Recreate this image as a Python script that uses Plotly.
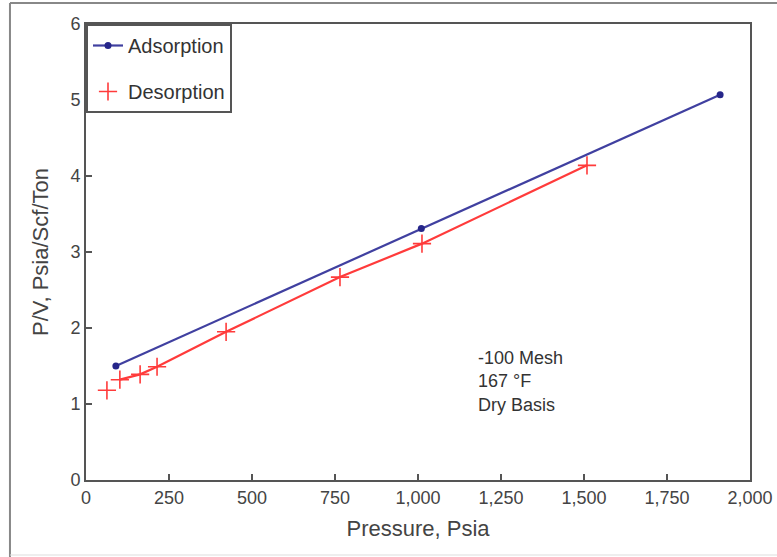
import plotly.graph_objects as go

ads_p = [90, 1010, 1910]
ads_pv = [1.50, 3.31, 5.07]

des_p = [63, 102, 163, 214, 422, 765, 1012, 1509]
des_pv = [1.18, 1.32, 1.39, 1.49, 1.95, 2.67, 3.11, 4.14]

x_ticks = [0, 250, 500, 750, 1000, 1250, 1500, 1750, 2000]
x_ticktext = ["0", "250", "500", "750", "1,000", "1,250", "1,500", "1,750", "2,000"]
y_ticks = [0, 1, 2, 3, 4, 5, 6]

note_lines = ["-100 Mesh", "167 °F", "Dry Basis"]

FONT = "Liberation Sans, Arial, sans-serif"
AX = "#555555"

fig = go.Figure()
fig.add_trace(go.Scatter(
    x=ads_p, y=ads_pv, mode="lines+markers", name="Adsorption",
    line=dict(color="#4040a0", width=2.2),
    marker=dict(color="#26268a", size=7, symbol="circle"),
    legendgroup="a",
))
fig.add_trace(go.Scatter(
    x=des_p[1:], y=des_pv[1:], mode="lines", showlegend=False,
    line=dict(color="#ff3b3b", width=2.2), hoverinfo="skip",
))
fig.add_trace(go.Scatter(
    x=des_p, y=des_pv, mode="markers", name="Desorption",
    marker=dict(color="#ff3b3b", size=13, symbol="cross-thin",
                line=dict(color="#ff3b3b", width=1.6)),
    legendgroup="d",
))

fig.add_annotation(
    x=1175, y=1.30, xref="x", yref="y", xanchor="left", yanchor="middle",
    text="<br>".join(note_lines), showarrow=False, align="left",
    font=dict(family=FONT, size=18, color="#333333"),
)

axis_common = dict(
    showline=True, linecolor=AX, linewidth=2, mirror=True,
    ticks="inside", ticklen=6, tickwidth=1.5, tickcolor=AX,
    showgrid=False, zeroline=False, automargin=False,
    tickfont=dict(family=FONT, size=18, color="#444444"),
)

fig.update_layout(
    width=777, height=557,
    margin=dict(l=86, r=27, t=24, b=77),
    paper_bgcolor="white", plot_bgcolor="white",
    showlegend=True,
    legend=dict(
        x=0, y=1, xanchor="left", yanchor="top",
        bgcolor="white", bordercolor=AX, borderwidth=2,
        font=dict(family=FONT, size=20, color="#333333"),
        tracegroupgap=17, traceorder="grouped",
        itemwidth=30,
    ),
    xaxis=dict(range=[0, 2000], tickvals=x_ticks, ticktext=x_ticktext,
               title=dict(text="Pressure, Psia", standoff=14,
                          font=dict(family=FONT, size=22, color="#444444")),
               **axis_common),
    yaxis=dict(range=[0, 6], tickvals=y_ticks,
               title=dict(text="P/V, Psia/Scf/Ton", standoff=16,
                          font=dict(family=FONT, size=22, color="#444444")),
               **axis_common),
    shapes=[
        dict(type="line", xref="paper", yref="paper", x0=-0.1145, x1=1.05,
             y0=1.046, y1=1.046, line=dict(color="#888888", width=2)),
        dict(type="line", xref="paper", yref="paper", x0=-0.1145, x1=-0.1145,
             y0=-0.17, y1=1.046, line=dict(color="#888888", width=2)),
        dict(type="line", xref="paper", yref="paper", x0=-0.1145, x1=1.05,
             y0=-0.1645, y1=-0.1645, line=dict(color="#dddddd", width=1)),
    ],
)

fig.write_html("out.html")
